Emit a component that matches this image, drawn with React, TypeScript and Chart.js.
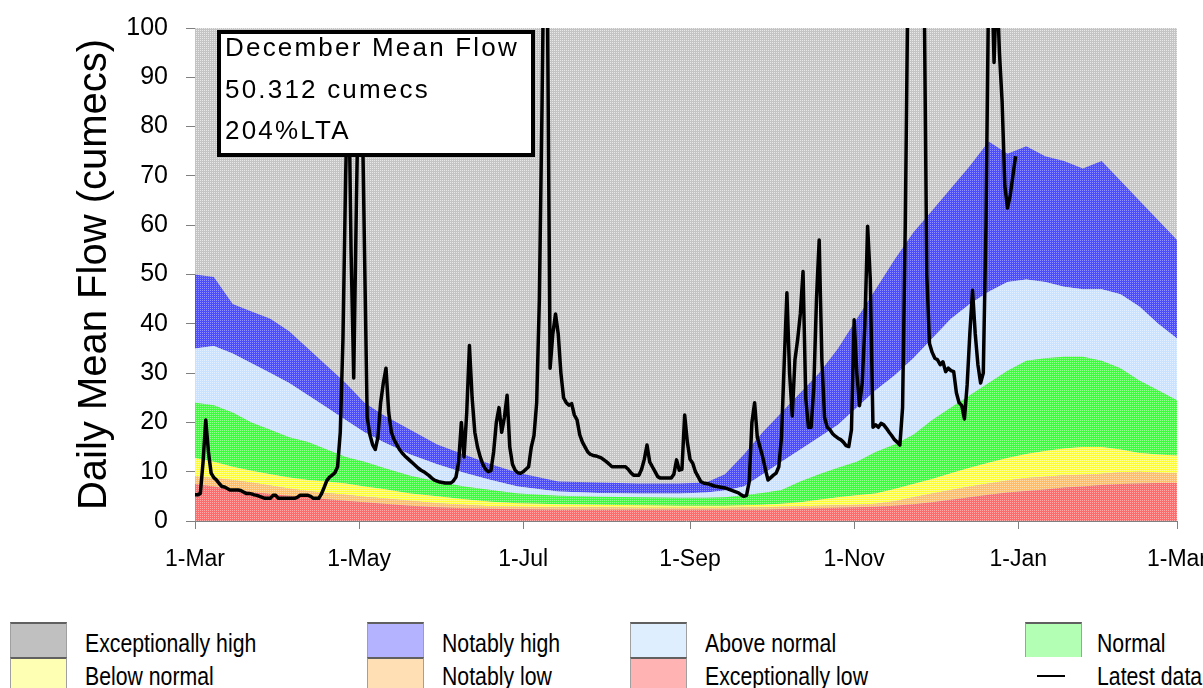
import React, { useEffect, useRef } from "react";
import { Chart, registerables } from "chart.js";

Chart.register(...registerables);

// ---- axis ticks (days since 1 March) ----
const TICK_DAYS = [0, 61, 122, 184, 245, 306, 365];
const TICK_LABELS = ["1-Mar", "1-May", "1-Jul", "1-Sep", "1-Nov", "1-Jan", "1-Mar"];

// ---- percentile band boundaries (upper edge of each band), cumecs ----
const BAND_DAYS = [0, 7, 14, 21, 28, 35, 42, 49, 56, 63, 70, 80, 90, 100, 110, 120, 135, 150, 165, 180, 190, 197, 204, 211, 218, 225, 232, 239, 246, 253, 260, 267, 274, 281, 288, 295, 302, 309, 316, 323, 330, 337, 344, 351, 358, 365];
const EXC_LOW_TOP = [7.5, 7, 6.4, 5.9, 5.5, 5.1, 4.8, 4.4, 4.1, 3.8, 3.5, 3.1, 2.8, 2.6, 2.5, 2.4, 2.3, 2.3, 2.3, 2.3, 2.3, 2.3, 2.3, 2.3, 2.4, 2.5, 2.6, 2.7, 2.8, 2.9, 3.1, 3.4, 3.8, 4.3, 4.8, 5.3, 5.8, 6.1, 6.4, 6.8, 7, 7.3, 7.5, 7.6, 7.7, 7.7];
const NOT_LOW_TOP = [9.1, 8.7, 8.3, 7.8, 7.2, 6.6, 6.1, 5.7, 5.3, 4.9, 4.6, 4.1, 3.6, 3.3, 3, 2.9, 2.8, 2.8, 2.7, 2.7, 2.7, 2.7, 2.8, 2.8, 2.9, 3, 3.1, 3.2, 3.3, 3.5, 4, 4.8, 5.6, 6.3, 7, 7.6, 8.2, 8.7, 9, 9.3, 9.4, 9.6, 9.9, 10, 9.8, 9.7];
const BELOW_NORMAL_TOP = [12.8, 12, 11, 10.2, 9.5, 8.8, 8.3, 8, 7.6, 7, 6.5, 5.6, 5, 4.4, 3.9, 3.6, 3.4, 3.3, 3.2, 3.1, 3.1, 3.1, 3.2, 3.3, 3.5, 3.8, 4.3, 4.8, 5.2, 5.6, 6.5, 7.5, 8.5, 9.7, 10.8, 11.8, 12.8, 13.6, 14.2, 14.7, 15, 15, 14.5, 13.8, 13.5, 13.3];
const NORMAL_TOP = [24, 23.5, 22, 20, 18.5, 17, 16, 14.5, 13, 12, 10.8, 9.2, 8, 7, 6.3, 5.6, 5.1, 4.9, 4.8, 4.7, 4.7, 4.8, 5.2, 5.7, 6.3, 8, 9.5, 10.8, 12, 14, 15.5, 17.5, 20.5, 23, 25.5, 28, 30.5, 32.5, 33, 33.3, 33.3, 32.5, 31, 28.5, 26.5, 24.5];
const ABOVE_NORMAL_TOP = [35, 35.5, 34, 32, 30, 28, 25.5, 23, 20.5, 18, 16, 13.5, 11.5, 9.8, 8.3, 7, 6, 5.7, 5.6, 5.6, 5.8, 6.2, 7, 9.5, 12, 14.5, 17, 19.5, 23, 26.5, 29.5, 33, 37, 41, 44, 46.5, 48.5, 49, 48.5, 47.5, 47, 47, 46, 43.5, 40, 37];
const NOT_HIGH_TOP = [50, 49.5, 44, 42.5, 41, 38.5, 35, 31.5, 28, 24, 21.5, 18.5, 15.5, 13.5, 11.5, 9.8, 8, 7.8, 7.6, 7.6, 7.8, 9.5, 13.5, 18, 22, 26, 30, 35, 41, 47, 53, 58.5, 63, 67.5, 72, 77, 74.5, 76, 74, 73, 71.5, 73, 69, 65, 61, 57];

// ---- latest daily mean flow, one value per day from 1 March (index = day) ----
const LATEST_FLOW = [
  5.3, 5.3, 5.6, 12, 20.5, 14, 9.7, 8.8, 8.3, 7.6,
  7, 6.9, 6.6, 6.3, 6.3, 6.3, 6.3, 6.2, 5.9, 5.6,
  5.6, 5.5, 5.3, 5.2, 5.0, 4.8, 4.6, 4.6, 4.6, 5.2,
  5.2, 4.6, 4.6, 4.6, 4.6, 4.6, 4.6, 4.6, 4.8, 5.2,
  5.2, 5.2, 5.2, 5.0, 4.6, 4.6, 4.6, 5.5, 6.8, 8.2,
  8.9, 9.3, 9.8, 11, 18, 37, 70, 95, 55, 29,
  65, 95, 90, 55, 21, 17.5, 15.5, 14.5, 17, 24,
  28, 31, 22, 18, 16.5, 15.5, 14.5, 13.8, 13.2, 12.7,
  12.2, 11.7, 11.2, 10.7, 10.3, 10, 9.6, 9.2, 8.7, 8.3,
  8.1, 7.9, 7.8, 7.7, 7.7, 7.7, 8.1, 8.9, 12, 20,
  13, 22, 35.6, 25, 18, 15, 13, 11.5, 10.5, 10,
  10.2, 14, 20, 23, 18, 21, 25.5, 15, 11.5, 10.3,
  9.8, 9.7, 10, 10.5, 11, 15, 17.3, 24, 45, 85,
  130, 105, 31, 38, 42, 38, 30, 25, 24, 23.5,
  23.8, 21.5, 20.5, 17.5, 16, 15, 14, 13.5, 13.3, 13.2,
  13, 12.8, 12.4, 12, 11.5, 11, 11, 11, 11, 11,
  11, 10.5, 9.8, 9.3, 9.3, 9.3, 10.5, 12.5, 15.4, 12,
  11, 10, 9, 8.7, 8.7, 8.7, 8.7, 8.7, 9.5, 12.4,
  10.3, 10.5, 21.5, 16, 12.5, 11.7, 10, 9, 8, 7.7,
  7.6, 7.5, 7.3, 7.1, 7, 6.9, 6.8, 6.7, 6.5, 6.3,
  6.1, 5.9, 5.7, 5.3, 5.0, 5.2, 8, 20, 24, 17,
  15, 13, 10.5, 8.3, 8.8, 9.3, 9.7, 11, 17, 32,
  46.3, 30, 21.3, 32.7, 36.8, 42, 50.6, 25, 19, 19,
  27, 45, 57, 32.7, 21, 19, 18.5, 17.7, 17.2, 16.8,
  16.5, 16, 15.3, 15.1, 18.5, 40.8, 30, 23.4, 28, 40,
  59.8, 49, 19, 19.5, 19, 19.8, 19.5, 18.8, 18, 17.3,
  16.5, 16, 15.4, 23, 60, 110, 140, 160, 150, 130,
  120, 110, 50, 36, 34.2, 33, 32.7, 31.7, 32.3, 30.3,
  31, 30.5, 30.3, 26, 24, 23.4, 20.7, 27.6, 38, 46.8,
  38, 31.7, 28, 30, 60, 110, 115, 93, 110, 95,
  85, 68, 63.5, 66, 70, 74,
];

const SANS = "'Liberation Sans', Arial, sans-serif";

const LEGEND_ITEMS = [
  { label: "Exceptionally high", color: "#c0c0c0", col: 0, row: 0 },
  { label: "Notably high", color: "#b3b3ff", col: 1, row: 0 },
  { label: "Above normal", color: "#deeeff", col: 2, row: 0 },
  { label: "Normal", color: "#b3ffb3", col: 3, row: 0 },
  { label: "Below normal", color: "#ffffb3", col: 0, row: 1 },
  { label: "Notably low", color: "#ffdfb3", col: 1, row: 1 },
  { label: "Exceptionally low", color: "#ffb3b3", col: 2, row: 1 },
];
const COL_SWATCH_X = [10, 367, 630, 1025];
const COL_TEXT_X = [85, 442, 705, 1097];

function makePattern(a: string, b: string): CanvasPattern | string {
  const c = document.createElement("canvas");
  c.width = 2;
  c.height = 2;
  const g = c.getContext("2d");
  if (!g) return a;
  g.fillStyle = a;
  g.fillRect(0, 0, 2, 2);
  g.fillStyle = b;
  g.fillRect(0, 0, 1, 1);
  return g.createPattern(c, "repeat") || a;
}

const narrowText: React.CSSProperties = {
  position: "absolute",
  fontFamily: SANS,
  fontSize: 25,
  lineHeight: "30px",
  color: "#000",
  whiteSpace: "nowrap",
  transform: "scaleX(0.85)",
  transformOrigin: "0 50%",
};

export default function App() {
  const canvasRef = useRef<HTMLCanvasElement | null>(null);

  useEffect(() => {
    const canvas = canvasRef.current;
    if (!canvas) return;

    const grayPat = makePattern("#c4c4c4", "#e8e8e8");
    const bandPoints = (arr: number[]) => BAND_DAYS.map((d, i) => ({ x: d, y: arr[i] }));
    const band = (label: string, arr: number[], color: any, fill: any) => ({
      label,
      data: bandPoints(arr),
      backgroundColor: color,
      borderWidth: 0,
      borderColor: "rgba(0,0,0,0)",
      pointRadius: 0,
      fill,
      tension: 0,
    });

    const bgPlugin = {
      id: "exceptionallyHighBg",
      beforeDatasetsDraw(chart: any) {
        const { ctx, chartArea: a } = chart;
        ctx.save();
        ctx.fillStyle = grayPat;
        ctx.fillRect(a.left, a.top, a.right - a.left, a.bottom - a.top);
        ctx.restore();
      },
    };

    const chart = new Chart(canvas, {
      type: "line",
      data: {
        datasets: [
          {
            label: "Latest data",
            data: LATEST_FLOW.map((v, i) => ({ x: i, y: v })),
            borderColor: "#000000",
            borderWidth: 3.5,
            pointRadius: 0,
            fill: false,
            tension: 0,
            borderJoinStyle: "round",
          } as any,
          band("Exceptionally low", EXC_LOW_TOP, makePattern("#ff6a6a", "#ffa8a8"), "origin"),
          band("Notably low", NOT_LOW_TOP, makePattern("#ffbe66", "#ffdcaa"), "-1"),
          band("Below normal", BELOW_NORMAL_TOP, makePattern("#ffff30", "#ffff9a"), "-1"),
          band("Normal", NORMAL_TOP, makePattern("#3cff3c", "#90ff90"), "-1"),
          band("Above normal", ABOVE_NORMAL_TOP, makePattern("#c8e2ff", "#e2f0ff"), "-1"),
          band("Notably high", NOT_HIGH_TOP, makePattern("#4c4cff", "#9090ff"), "-1"),
        ],
      },
      options: {
        animation: false,
        responsive: false,
        maintainAspectRatio: false,
        layout: { padding: { top: 28, right: 26, bottom: 0, left: 0 } },
        plugins: {
          legend: { display: false },
          tooltip: { enabled: false },
        },
        scales: {
          x: {
            type: "linear",
            min: 0,
            max: 365,
            afterBuildTicks: (s: any) => {
              s.ticks = TICK_DAYS.map((v) => ({ value: v }));
            },
            afterFit: (s: any) => {
              s.height = 79;
              s.paddingLeft = 0;
              s.paddingRight = 0;
            },
            ticks: {
              autoSkip: false,
              maxRotation: 0,
              minRotation: 0,
              padding: 17,
              color: "#000000",
              font: { family: SANS, size: 23 },
              callback: (_v: any, idx: number) => TICK_LABELS[idx],
            },
            grid: { drawOnChartArea: false, drawTicks: true, tickLength: 8, color: "#808080" },
            border: { color: "#808080", width: 1 },
          },
          y: {
            min: 0,
            max: 100,
            afterFit: (s: any) => {
              s.width = 195;
              s.paddingTop = 0;
              s.paddingBottom = 0;
            },
            ticks: {
              stepSize: 10,
              padding: 18,
              color: "#000000",
              font: { family: SANS, size: 25 },
            },
            grid: { drawOnChartArea: false, drawTicks: true, tickLength: 9, color: "#808080" },
            border: { color: "#808080", width: 1 },
            title: {
              display: true,
              text: "Daily Mean Flow (cumecs)",
              color: "#000000",
              font: { family: SANS, size: 40 },
              padding: { top: 71, bottom: 0 },
            },
          },
        },
      } as any,
      plugins: [bgPlugin],
    });

    return () => chart.destroy();
  }, []);

  return (
    <div
      style={{
        position: "absolute",
        left: 0,
        top: 0,
        width: 1203,
        height: 688,
        background: "#ffffff",
        overflow: "hidden",
      }}
    >
      <canvas ref={canvasRef} width={1203} height={600} style={{ position: "absolute", left: 0, top: 0 }} />

      {/* annotation box */}
      <div
        style={{
          position: "absolute",
          left: 217,
          top: 30,
          width: 318,
          height: 127,
          boxSizing: "border-box",
          border: "4px solid #000",
          background: "#ffffff",
        }}
      />
      <div
        style={{
          position: "absolute",
          left: 225,
          top: 27,
          fontFamily: SANS,
          fontSize: 26,
          lineHeight: "41.5px",
          letterSpacing: "2.2px",
          color: "#000",
          whiteSpace: "pre",
        }}
      >
        <div>December Mean Flow</div>
        <div>50.312 cumecs</div>
        <div>204%LTA</div>
      </div>

      {/* legend */}
      {LEGEND_ITEMS.map((it) => (
        <React.Fragment key={it.label}>
          <div
            style={{
              position: "absolute",
              left: COL_SWATCH_X[it.col],
              top: 622 + it.row * 35,
              width: 57,
              height: 35,
              boxSizing: "border-box",
              background: it.color,
              borderLeft: "1px solid #a0a0a0",
              borderRight: "1px solid #a0a0a0",
              borderTop: "2px solid #606060",
            }}
          />
          <div style={{ ...narrowText, left: COL_TEXT_X[it.col], top: 628 + it.row * 33 }}>{it.label}</div>
        </React.Fragment>
      ))}
      <div style={{ position: "absolute", left: 1037, top: 675, width: 28, height: 2, background: "#000" }} />
      <div style={{ ...narrowText, left: COL_TEXT_X[3], top: 661 }}>Latest data</div>
    </div>
  );
}
